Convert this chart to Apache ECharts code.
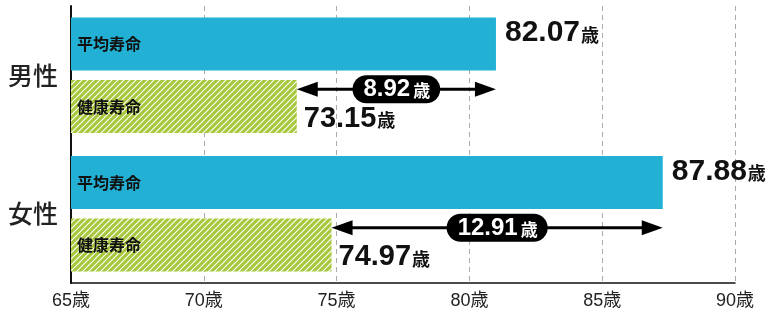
<!DOCTYPE html>
<html>
<head>
<meta charset="utf-8">
<script src="https://cdn.jsdelivr.net/npm/echarts@6/dist/echarts.min.js"></script>
<style>
	html, body { margin: 0; padding: 0; background: #fff; }
	#chart { width: 770px; height: 311px; }
</style>
</head>
<body>
<div id="chart"></div>
<script>
const categories = [ "男性", "女性" ];
const seriesNames = [ "平均寿命", "健康寿命" ];
// bar lengths as drawn in the picture
const averageLife = [ 81.0, 87.28 ];
const healthyLife = [ 73.5, 74.81 ];
// values printed next to the bars
const averageText = [ "82.07", "87.88" ];
const healthyText = [ "73.15", "74.97" ];
const gapText = [ "8.92", "12.91" ];
const axisMin = 65;
const axisMax = 90;
const axisStep = 5;

const FONT_JP = "'Noto Sans CJK JP', sans-serif";
const FONT_NUM = "'Liberation Sans', Arial, 'Noto Sans CJK JP', sans-serif";
const BAR_W = 53;
const BAR_GAP = 9.5;

function makeHatch() {
	const s = 6;
	const c = document.createElement( "canvas" );
	c.width = s;
	c.height = s;
	const ctx = c.getContext( "2d" );
	ctx.fillStyle = "#a8c83c";
	ctx.fillRect( 0, 0, s, s );
	ctx.strokeStyle = "#ffffff";
	ctx.lineWidth = 1.1;
	ctx.beginPath();
	ctx.moveTo( -1, s + 1 ); ctx.lineTo( s + 1, -1 );
	ctx.moveTo( -1, 1 ); ctx.lineTo( 1, -1 );
	ctx.moveTo( s - 1, s + 1 ); ctx.lineTo( s + 1, s - 1 );
	ctx.stroke();
	return c;
}

const valueRich = ( big, bold ) => ( {
	n: { fontSize: big, fontWeight: bold, fontFamily: FONT_NUM, fill: "#111" },
	u: { fontSize: 18, fontWeight: "bold", fontFamily: FONT_JP, fill: "#111", padding: [ 4, 0, 0, 1 ] }
} );

function renderNotes( params, api ) {
	const i = params.dataIndex;
	const p1 = api.coord( [ api.value( 0 ), api.value( 2 ) ] );
	const p2 = api.coord( [ api.value( 1 ), api.value( 2 ) ] );
	const cy = p1[ 1 ];
	const off = ( BAR_W + BAR_GAP ) / 2;
	const ay = cy + 14;
	const x1 = p1[ 0 ];
	const x2 = p2[ 0 ];
	const head = 21;
	return {
		type: "group",
		children: [
			{
				type: "line",
				shape: { x1: x1 + head - 2, y1: ay, x2: x2 - head + 2, y2: ay },
				style: { stroke: "#000", lineWidth: 3 }
			},
			{
				type: "polygon",
				shape: { points: [ [ x1, ay ], [ x1 + head, ay - 7.5 ], [ x1 + head, ay + 7.5 ] ] },
				style: { fill: "#000" }
			},
			{
				type: "polygon",
				shape: { points: [ [ x2, ay ], [ x2 - head, ay - 7.5 ], [ x2 - head, ay + 7.5 ] ] },
				style: { fill: "#000" }
			},
			{
				type: "text",
				style: {
					x: ( x1 + x2 ) / 2,
					y: ay,
					align: "center",
					verticalAlign: "middle",
					text: "{n|" + gapText[ i ] + "}{u|歳}",
					backgroundColor: "#000",
					borderRadius: 14,
					padding: [ 2, 10, 1, 11 ],
					rich: {
						n: { fontSize: 24, fontWeight: "bold", fontFamily: FONT_NUM, fill: "#fff", lineHeight: 25 },
						u: { fontSize: 17, fontWeight: "bold", fontFamily: FONT_JP, fill: "#fff", padding: [ 2, 0, 0, 3 ] }
					}
				}
			},
			{
				type: "text",
				style: {
					x: x2 + 9,
					y: cy - off - 11,
					align: "left",
					verticalAlign: "middle",
					text: "{n|" + averageText[ i ] + "}{u|歳}",
					rich: valueRich( 30, "bold" )
				}
			},
			{
				type: "text",
				style: {
					x: x1 + 7,
					y: cy + off + 12,
					align: "left",
					verticalAlign: "middle",
					text: "{n|" + healthyText[ i ] + "}{u|歳}",
					rich: valueRich( 29, "bold" )
				}
			}
		]
	};
}

const chart = echarts.init( document.getElementById( "chart" ) );
chart.setOption( {
	animation: false,
	grid: { left: 71, right: 35, top: 6, bottom: 28 },
	xAxis: {
		type: "value",
		min: axisMin,
		max: axisMax,
		interval: axisStep,
		axisLine: { show: true, lineStyle: { color: "#111", width: 1.5 } },
		axisTick: { show: false },
		axisLabel: {
			formatter: v => v + "歳",
			fontSize: 18,
			color: "#222",
			margin: 9,
			fontFamily: FONT_NUM
		},
		splitLine: { show: true, lineStyle: { color: "#aaa", type: [ 5, 4 ], width: 1 } }
	},
	yAxis: {
		type: "category",
		data: categories,
		inverse: true,
		axisLine: { show: true, lineStyle: { color: "#111", width: 2 } },
		axisTick: { show: false },
		axisLabel: { fontSize: 25, color: "#222", margin: 13, fontFamily: FONT_JP, fontWeight: 500 }
	},
	series: [
		{
			name: seriesNames[ 0 ],
			type: "bar",
			data: averageLife,
			barWidth: BAR_W,
			barGap: ( BAR_GAP / BAR_W * 100 ).toFixed( 1 ) + "%",
			itemStyle: { color: "#22b1d4" },
			label: {
				show: true, position: "insideLeft", distance: 6, formatter: "{a}",
				fontSize: 16, fontWeight: "bold", color: "#111", fontFamily: FONT_JP
			}
		},
		{
			name: seriesNames[ 1 ],
			type: "bar",
			data: healthyLife,
			barWidth: BAR_W,
			itemStyle: { color: { image: makeHatch(), repeat: "repeat" } },
			label: {
				show: true, position: "insideLeft", distance: 6, formatter: "{a}",
				fontSize: 16, fontWeight: "bold", color: "#111", fontFamily: FONT_JP
			}
		},
		{
			name: "差",
			type: "custom",
			renderItem: renderNotes,
			encode: { x: [ 0, 1 ], y: 2 },
			data: categories.map( ( c, i ) => [ healthyLife[ i ], averageLife[ i ], i ] ),
			z: 5
		}
	]
} );
</script>
</body>
</html>
